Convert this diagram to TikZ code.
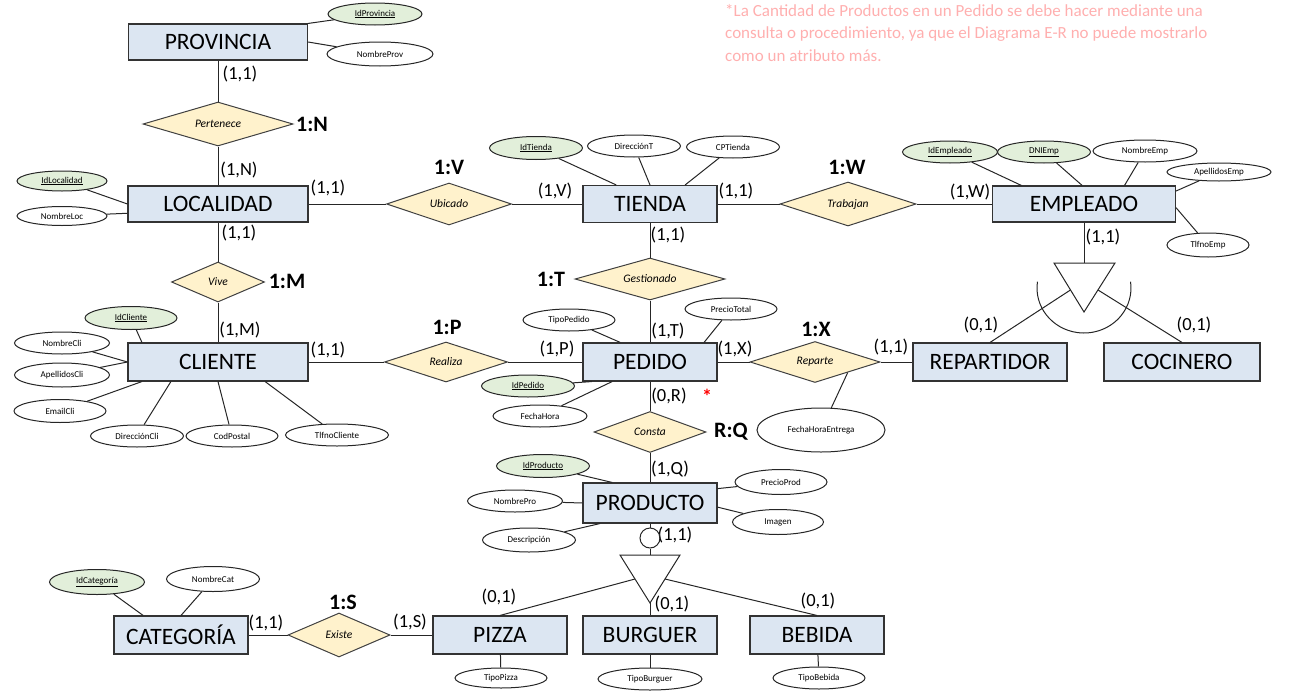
\documentclass[tikz,border=0pt]{standalone}
\usepackage{fontspec}
\setmainfont{Carlito}
\usetikzlibrary{shapes.geometric,calc}

\definecolor{entfill}{HTML}{DCE6F2}
\definecolor{relfill}{HTML}{FFF2CC}
\definecolor{keyfill}{HTML}{E2EFDA}
\definecolor{notered}{RGB}{255,175,175}

\tikzset{
  entity/.style={draw=black!80, fill=entfill, line width=1.1pt, minimum width=134pt, minimum height=38pt, inner sep=0pt, font=\fontsize{23.5}{26}\selectfont},
  relation/.style={diamond, aspect=3.5, draw=black!75, fill=relfill, line width=1pt, inner sep=0pt, font=\fontsize{11.5}{13}\selectfont\itshape},
  attr/.style={ellipse, draw=black!85, fill=white, line width=1pt, minimum width=93pt, minimum height=22pt, inner sep=0pt, font=\fontsize{9}{10}\selectfont},
  keyattr/.style={attr, fill=keyfill},
  card/.style={inner sep=0pt, font=\fontsize{18.5}{20}\selectfont},
  ratio/.style={inner sep=0pt, font=\fontsize{22}{24}\selectfont\bfseries},
  link/.style={draw=black!85, line width=1pt},
}

\begin{document}
\begin{tikzpicture}[x=1pt, y=-1pt]
\useasboundingbox (0,0) rectangle (1291,699);

% Entities
\node[entity, minimum width=179pt, minimum height=36pt] (prov) at (218,42) {PROVINCIA};
\node[entity, minimum width=180pt, minimum height=36pt] (loc) at (218,204) {LOCALIDAD};
\node[entity, minimum width=180pt] (cli) at (218,362) {CLIENTE};
\node[entity, minimum height=37pt] (tienda) at (650,204) {TIENDA};
\node[entity] (pedido) at (650,362) {PEDIDO};
\node[entity, minimum width=183pt, minimum height=36pt] (emp) at (1084,204) {EMPLEADO};
\node[entity, minimum width=154pt] (rep) at (990,362) {REPARTIDOR};
\node[entity, minimum width=156pt] (coc) at (1182,362) {COCINERO};
\node[entity, minimum height=40pt] (prod) at (650,503) {PRODUCTO};
\node[entity] (pizza) at (500,635) {PIZZA};
\node[entity] (burg) at (650,635) {BURGUER};
\node[entity] (beb) at (817,635) {BEBIDA};
\node[entity] (cat) at (181,635) {CATEGORÍA};

% Relationships
\node[relation, minimum width=150pt, minimum height=44pt] (pertenece) at (218,124) {Pertenece};
\node[relation, minimum width=125pt, minimum height=42pt] (ubicado) at (449,204) {Ubicado};
\node[relation, minimum width=93pt, minimum height=40pt] (vive) at (218,282) {Vive};
\node[relation, minimum width=123pt, minimum height=40pt] (realiza) at (446,362) {Realiza};
\node[relation, minimum width=150pt, minimum height=42pt] (gestionado) at (650,279) {Gestionado};
\node[relation, minimum width=136pt, minimum height=44pt] (trabajan) at (848,204) {Trabajan};
\node[relation, minimum width=130pt, minimum height=41pt] (reparte) at (815,362) {Reparte};
\node[relation, minimum width=112pt, minimum height=41pt] (consta) at (650,432) {Consta};
\node[relation, minimum width=102pt, minimum height=44pt] (existe) at (339,635) {Existe};

% Relationship lines
\draw[link] (prov) -- (pertenece) -- (loc);
\draw[link] (loc) -- (vive) -- (cli);
\draw[link] (loc) -- (ubicado) -- (tienda);
\draw[link] (cli) -- (realiza) -- (pedido);
\draw[link] (tienda) -- (gestionado) -- (pedido);
\draw[link] (tienda) -- (trabajan) -- (emp);
\draw[link] (pedido) -- (reparte) -- (rep);
\draw[link] (pedido) -- (consta) -- (prod);
\draw[link] (cat) -- (existe) -- (pizza);

% Ratios
\node[ratio] (rN) at (312,124) {1:N};
\node[ratio] (rV) at (449,167) {1:V};
\node[ratio] (rM) at (287,281) {1:M};
\node[ratio] (rP) at (447,327) {1:P};
\node[ratio] (rT) at (551,279) {1:T};
\node[ratio] (rW) at (847,167) {1:W};
\node[ratio] (rX) at (816,329) {1:X};
\node[ratio] (rQ) at (731,432) {R:Q};
\node[ratio] (rS) at (343,602) {1:S};

% Cardinalities
\node[card] (cprov) at (240,74) {(1,1)};
\node[card] (clocN) at (239,170) {(1,N)};
\node[card] (clocE) at (328,188) {(1,1)};
\node[card] (clocS) at (239,233) {(1,1)};
\node[card] (ccliM) at (240,330) {(1,M)};
\node[card] (ccliE) at (328,350) {(1,1)};
\node[card] (ctV) at (555,191) {(1,V)};
\node[card] (ctE) at (736,191) {(1,1)};
\node[card] (ctS) at (668,235) {(1,1)};
\node[card] (cempW) at (970,192) {(1,W)};
\node[card] (cempS) at (1103,237) {(1,1)};
\node[card] (cpP) at (557,349) {(1,P)};
\node[card] (cpT) at (668,331) {(1,T)};
\node[card] (cpX) at (735,349) {(1,X)};
\node[card] (cpR) at (669,396) {(0,R)};
\node[card] (crep) at (891,347) {(1,1)};
\node[card] (crepS) at (981,325) {(0,1)};
\node[card] (ccocS) at (1194,325) {(0,1)};
\node[card] (cprodQ) at (670,469) {(1,Q)};
\node[card] (cprodS) at (675,535) {(1,1)};
\node[card] (cpizza) at (499,597) {(0,1)};
\node[card] (cburg) at (672,604) {(0,1)};
\node[card] (cbeb) at (818,601) {(0,1)};
\node[card] (ccat) at (266,623) {(1,1)};
\node[card] (cpizS) at (410,622) {(1,S)};

% Attributes
\node[keyattr, minimum width=94pt] (idprov) at (375,14) {\underline{IdProvincia}};
\node[attr, minimum width=106pt, minimum height=24pt] (nomprov) at (380,54) {NombreProv};
\node[keyattr, minimum width=90pt, minimum height=20pt] (idloc) at (62,181) {\underline{IdLocalidad}};
\node[attr, minimum width=90pt, minimum height=19pt] (nomloc) at (62,216) {NombreLoc};

\node[keyattr, minimum width=92pt, minimum height=23pt] (idcli) at (131,318) {\underline{IdCliente}};
\node[attr, minimum width=95pt] (nomcli) at (62,343) {NombreCli};
\node[attr, minimum width=95pt, minimum height=24pt] (apecli) at (62,375) {ApellidosCli};
\node[attr, minimum width=92pt, minimum height=23pt] (emailcli) at (60,411) {EmailCli};
\node[attr] (dircli) at (137,436) {DirecciónCli};
\node[attr, minimum width=92pt] (codpostal) at (232,436) {CodPostal};
\node[attr, minimum width=103pt] (tlfcli) at (337,435) {TlfnoCliente};

\node[keyattr, minimum height=23pt] (idtienda) at (536,148) {\underline{IdTienda}};
\node[attr] (dirt) at (634,146) {DirecciónT};
\node[attr] (cptienda) at (733,147) {CPTienda};

\node[keyattr, minimum width=95pt] (idemp) at (950,152) {\underline{IdEmpleado}};
\node[keyattr] (dniemp) at (1044,152) {\underline{DNIEmp}};
\node[attr, minimum width=104pt] (nomemp) at (1145,151) {NombreEmp};
\node[attr, minimum width=104pt, minimum height=18pt] (apeemp) at (1219,172) {ApellidosEmp};
\node[attr, minimum width=82pt, minimum height=24pt] (tlfemp) at (1208,245) {TlfnoEmp};

\node[attr, minimum width=92pt] (tipoped) at (569,320) {TipoPedido};
\node[attr, minimum width=92pt] (preciotot) at (731,309) {PrecioTotal};
\node[keyattr] (idped) at (528,386) {\underline{IdPedido}};
\node[attr, minimum width=94pt] (fechahora) at (540,416) {FechaHora};
\node[attr, minimum width=128pt, minimum height=44pt] (fhentrega) at (821,430) {FechaHoraEntrega};

\node[keyattr, minimum height=23pt] (idprod) at (543,466) {\underline{IdProducto}};
\node[attr, minimum width=95pt] (nompro) at (515,501) {NombrePro};
\node[attr, minimum height=24pt] (desc) at (529,540) {Descripción};
\node[attr, minimum width=92pt, minimum height=25pt] (precioprod) at (781,482) {PrecioProd};
\node[attr, minimum width=91pt, minimum height=25pt] (imagen) at (778,522) {Imagen};

\node[attr, minimum width=92pt, minimum height=20pt] (tipopizza) at (501,678) {TipoPizza};
\node[attr, minimum width=104pt] (tipoburg) at (650,679) {TipoBurguer};
\node[attr, minimum width=92pt] (tipobeb) at (819,678) {TipoBebida};

\node[keyattr, minimum width=95pt, minimum height=25pt] (idcat) at (97,582) {\underline{IdCategoría}};
\node[attr, minimum height=25pt] (nomcat) at (213,579) {NombreCat};

% Attribute lines
\draw[link] (idprov) -- (prov.north east);
\draw[link] (nomprov) -- (prov.east);
\draw[link] (idloc) -- (loc.west);
\draw[link] (nomloc) -- ($(loc.west)!0.5!(loc.south west)$);

\draw[link] (idcli) -- ($(cli.north west)!0.08!(cli.north east)$);
\draw[link] (nomcli) -- (cli.west);
\draw[link] (apecli) -- (cli.west);
\draw[link] (emailcli) -- ($(cli.south west)!0.08!(cli.south east)$);
\draw[link] (dircli) -- ($(cli.south west)!0.24!(cli.south east)$);
\draw[link] (codpostal) -- (cli.south);
\draw[link] (tlfcli) -- ($(cli.south west)!0.76!(cli.south east)$);

\draw[link] (idtienda) -- ($(tienda.north west)!0.25!(tienda.north east)$);
\draw[link] (dirt) -- (tienda.north);
\draw[link] (cptienda) -- ($(tienda.north west)!0.76!(tienda.north east)$);

\draw[link] (idemp) -- ($(emp.north west)!0.16!(emp.north east)$);
\draw[link] (dniemp) -- ($(emp.north west)!0.49!(emp.north east)$);
\draw[link] (nomemp) -- ($(emp.north west)!0.72!(emp.north east)$);
\draw[link] (apeemp) -- ($(emp.north east)!0.15!(emp.south east)$);
\draw[link] (tlfemp) -- ($(emp.north east)!0.6!(emp.south east)$);

\draw[link] (tipoped) -- ($(pedido.north west)!0.28!(pedido.north east)$);
\draw[link] (preciotot) -- ($(pedido.north west)!0.9!(pedido.north east)$);
\draw[link] (idped) -- ($(pedido.south west)!0.07!(pedido.south east)$);
\draw[link] (fechahora) -- ($(pedido.south west)!0.22!(pedido.south east)$);
\draw[link] (reparte.south east) -- (fhentrega);

\draw[link] (idprod) -- ($(prod.north west)!0.22!(prod.north east)$);
\draw[link] (nompro) -- (prod.west);
\draw[link] (desc) -- ($(prod.south west)!0.13!(prod.south east)$);
\draw[link] (precioprod) -- ($(prod.north east)!0.15!(prod.south east)$);
\draw[link] (imagen) -- ($(prod.north east)!0.6!(prod.south east)$);

\draw[link] (pizza) -- (tipopizza);
\draw[link] (burg) -- (tipoburg);
\draw[link] (beb) -- (tipobeb);

\draw[link] (idcat) -- ($(cat.north west)!0.22!(cat.north east)$);
\draw[link] (nomcat) -- (cat.north);

% Specialization of EMPLEADO
\coordinate (isaEl) at (1054,263);
\coordinate (isaEr) at (1115,263);
\coordinate (isaEp) at (1084,312);
\coordinate (arcE) at (1084,288);
\draw[link] (emp) -- (emp |- isaEl);
\draw[link] (isaEl) -- (isaEr) -- (isaEp) -- cycle;
\draw[link] ($(isaEl)!0.55!(isaEp)$) -- (rep.north);
\draw[link] ($(isaEr)!0.55!(isaEp)$) -- (coc.north);
\draw[link] (arcE) ++(172:47pt and 45pt) arc[start angle=172, end angle=368, x radius=47pt, y radius=45pt];

% Specialization of PRODUCTO
\node[link, circle, minimum size=20pt, inner sep=0pt] (prodcirc) at (650,538) {};
\coordinate (isaPl) at (620,555);
\coordinate (isaPr) at (680,555);
\coordinate (isaPp) at (650,603);
\draw[link] (prod) -- (prodcirc) -- (prodcirc |- isaPl);
\draw[link] (isaPl) -- (isaPr) -- (isaPp) -- cycle;
\draw[link] ($(isaPl)!0.5!(isaPp)$) -- (pizza.north);
\draw[link] ($(isaPr)!0.5!(isaPp)$) -- (beb.north);
\draw[link] (isaPp) -- (burg.north);

% Note
\node[text=red, font=\fontsize{20}{20}\selectfont\bfseries] (star) at (707,396) {*};
\node[anchor=north west, text=notered, align=left, inner sep=0pt, font=\fontsize{17}{22.5}\selectfont] (nota) at (725,4) {*La Cantidad de Productos en un Pedido se debe hacer mediante una\\consulta o procedimiento, ya que el Diagrama E-R no puede mostrarlo\\como un atributo más.};

\end{tikzpicture}
\end{document}
